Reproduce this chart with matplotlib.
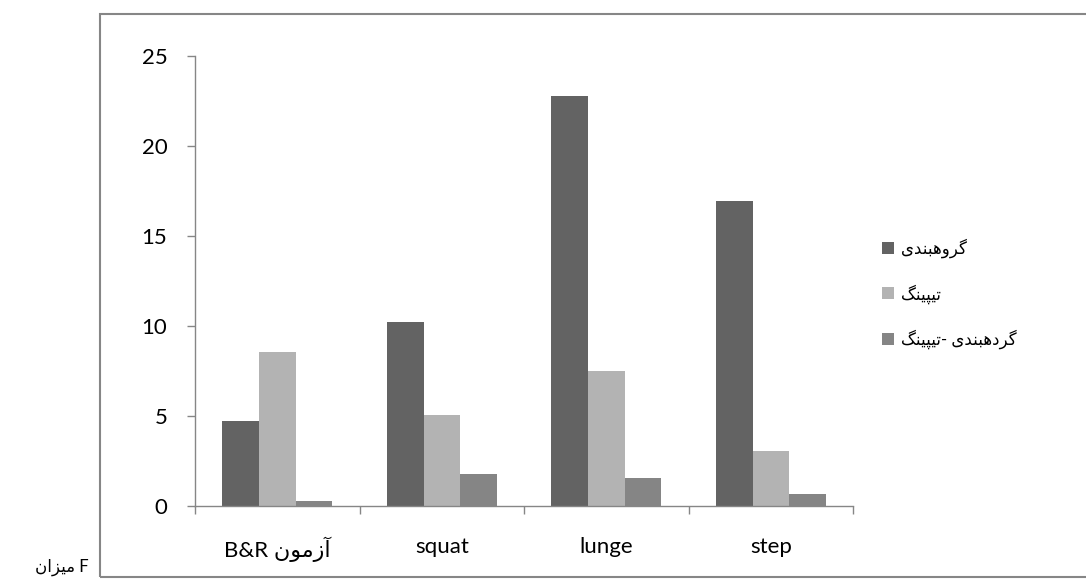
import matplotlib.pyplot as plt
import matplotlib.patches as mpatches
import numpy as np

plt.rcParams['font.family'] = ['Lato', 'DejaVu Sans']

# Arabic-script strings are written in display order with presentation forms
categories = ['B&R \uFEE5\uFEEE\uFEE3\uFEAF\uFE81', 'squat', 'lunge', 'step']
series_names = [
    '\uFBFC\uFEAA\uFEE8\uFE92\uFEEB\uFEED\uFEAE\uFB94',
    '\uFB93\uFEE8\uFBFF\uFB59\uFBFF\uFE97',
    '\uFB93\uFEE8\uFBFF\uFB59\uFBFF\uFE97- \uFBFC\uFEAA\uFEE8\uFE92\uFEEB\uFEA9\uFEAE\uFB94',
]
grouping = [4.7, 10.2, 22.8, 16.95]
taping = [8.55, 5.05, 7.5, 3.05]
grouping_taping = [0.3, 1.8, 1.55, 0.65]
corner_label = '\uFEE5\uFE8D\uFEB0\uFBFF\uFEE3 F'

colors = ['#636363', '#b3b3b3', '#858585']

fig = plt.figure(figsize=(10.86, 5.84), dpi=100)
ax = fig.add_axes([0.1796, 0.1336, 0.6059, 0.7705])

x = np.arange(len(categories))
w = 1 / 4.5
for i, (vals, col, name) in enumerate(zip([grouping, taping, grouping_taping], colors, series_names)):
    ax.bar(x + (i - 1) * w, vals, width=w, color=col, label=name)

ax.set_xlim(-0.5, 3.5)
ax.set_ylim(0, 25)
ax.set_yticks(range(0, 26, 5))
ax.set_xticks(np.arange(-0.5, 4, 1))
ax.set_xticklabels([])
ax.set_xticks(x, minor=True)
ax.set_xticklabels(categories, minor=True, fontsize=16)
ax.tick_params(axis='x', which='minor', length=0, pad=22)
ax.tick_params(axis='x', which='major', length=6, width=1, color='#868686', direction='out')
ax.tick_params(axis='y', length=6, width=1, color='#868686', direction='out', pad=14, labelsize=16)

for side in ['top', 'right']:
    ax.spines[side].set_visible(False)
for side in ['left', 'bottom']:
    ax.spines[side].set_color('#868686')
    ax.spines[side].set_linewidth(1)

ax.legend(loc='center left', bbox_to_anchor=(0.812, 0.497), bbox_transform=fig.transFigure,
          frameon=False, fontsize=12, handlelength=0.75, handleheight=0.75,
          handletextpad=0.4, labelspacing=1.55, borderpad=0, borderaxespad=0)

# outer chart border
fig.patches.append(mpatches.Rectangle((0.092, 0.012), 0.92, 0.964, transform=fig.transFigure,
                                      fill=False, edgecolor='#868686', linewidth=1.5))

fig.text(0.032, 0.029, corner_label, fontsize=12, ha='left', va='center')

fig.savefig('out.png', dpi=100)
